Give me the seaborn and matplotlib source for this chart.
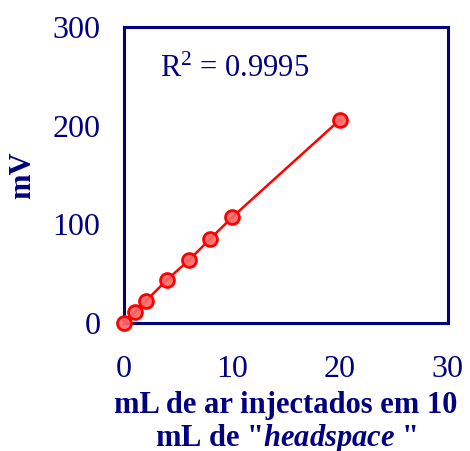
import matplotlib
matplotlib.use("Agg")
import matplotlib.pyplot as plt
import seaborn as sns
import pandas as pd

# Data
ml_air = [0, 1, 2, 4, 6, 8, 10, 20]
mv = [0, 11, 22, 44, 63.5, 85.5, 107, 206]
x_ticks = [0, 10, 20, 30]
y_ticks = [0, 100, 200, 300]
r2_text = r"R$^{2}$ = 0.9995"

sns.set_style("white")
plt.rcParams['font.family'] = ['Liberation Serif', 'DejaVu Serif']
plt.rcParams['mathtext.fontset'] = 'custom'
plt.rcParams['mathtext.rm'] = 'Liberation Serif'
plt.rcParams['mathtext.it'] = 'Liberation Serif:italic:bold'
plt.rcParams['mathtext.bf'] = 'Liberation Serif:bold'

navy = '#000080'
df = pd.DataFrame({'x': ml_air, 'y': mv})

fig = plt.figure(figsize=(4.70, 4.51), dpi=100)
ax = fig.add_axes([0.264, 0.284, 0.689, 0.656])

sns.lineplot(data=df, x='x', y='y', ax=ax, color='red', linewidth=1.8,
             marker='o', markersize=10, markerfacecolor=(1, 0.4, 0.4, 0.9),
             markeredgecolor='red', markeredgewidth=2, clip_on=False, zorder=5)

ax.set_xlim(0, 30)
ax.set_ylim(0, 300)
ax.set_xticks(x_ticks)
ax.set_yticks(y_ticks)
ax.tick_params(axis='both', direction='out', length=7, width=1, colors='#4a4aa0',
               labelcolor=navy, labelsize=23)
ax.tick_params(axis='y', pad=10)
ax.tick_params(axis='x', pad=16)
for s in ax.spines.values():
    s.set_color(navy)
    s.set_linewidth(2.2)

ax.set_xlabel('mL de ar injectados em 10\nmL de "$\\it{headspace}$ "', fontsize=22,
              fontweight='bold', color=navy, labelpad=5, linespacing=1.1)
ax.set_ylabel('mV', fontsize=22, fontweight='bold', color=navy, labelpad=11)

ax.text(3.3, 249, r2_text, fontsize=22, color=navy)

fig.savefig('out.png', dpi=100)
